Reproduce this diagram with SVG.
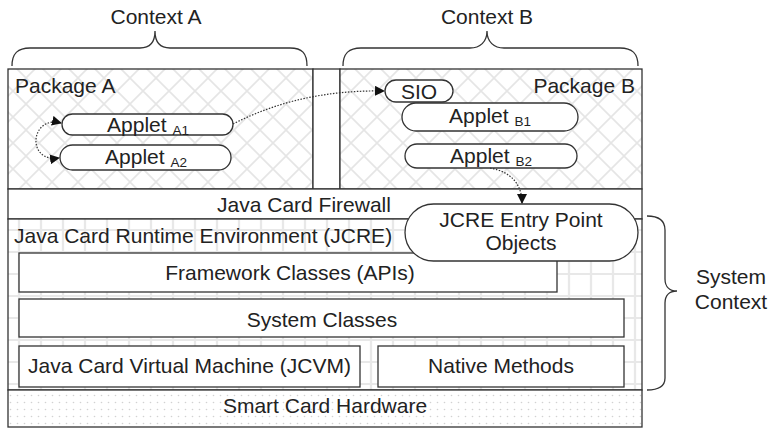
<svg xmlns="http://www.w3.org/2000/svg" width="770" height="428" viewBox="0 0 770 428">
<style>
text{font-family:"Liberation Sans",Arial,sans-serif;fill:#222;font-size:21px}
.sub{font-size:13.5px}
.box{fill:#fff;stroke:#333;stroke-width:1.3}
.line{stroke:#333;stroke-width:1.3;fill:none}
.conn{stroke:#333;stroke-width:1.2;stroke-dasharray:1.5 1.5;fill:none}
.brace{stroke:#333;stroke-width:1.3;fill:none}
</style>
<defs>
<pattern id="hatch" patternUnits="userSpaceOnUse" width="26" height="26">
<rect width="26" height="26" fill="#fff"/>
<path d="M0,0L26,26M26,0L0,26" stroke="#e5e5e5" stroke-width="1.6"/>
</pattern>
<pattern id="grid" patternUnits="userSpaceOnUse" width="22" height="22" x="8" y="219">
<rect width="22" height="22" fill="#fff"/>
<path d="M11,0V22M0,11H22" stroke="#e8e8e8" stroke-width="2.2"/>
</pattern>
<pattern id="dots" patternUnits="userSpaceOnUse" width="7" height="7">
<rect width="7" height="7" fill="#fff"/>
<circle cx="3.5" cy="3.5" r="0.8" fill="#d2d2d2"/>
</pattern>
<marker id="arr" viewBox="0 0 10 10" refX="9" refY="5" markerWidth="10" markerHeight="10" markerUnits="userSpaceOnUse" orient="auto-start-reverse">
<path d="M0,0L10,5L0,10z" fill="#111"/>
</marker>
</defs>

<g id="context-a">
<path class="brace" d="M12,66C12,53 18,48 30,48L140,48C150,48 155,42 155,31C155,42 160,48 170,48L290,48C302,48 307,53 307,66"/>
<text x="156" y="24" text-anchor="middle">Context A</text>
</g>
<g id="context-b">
<path class="brace" d="M343,66C343,53 349,48 361,48L470,48C480,48 487,42 487,31C487,42 494,48 504,48L620,48C632,48 638,53 638,66"/>
<text x="487" y="24" text-anchor="middle">Context B</text>
</g>

<g id="package-a">
<rect x="8" y="69" width="305" height="120" fill="url(#hatch)" stroke="#333" stroke-width="1.3"/>
<text x="15" y="93">Package A</text>
</g>
<g id="gap">
<rect x="313" y="69" width="27" height="120" class="box"/>
</g>
<g id="package-b">
<rect x="340" y="69" width="302" height="120" fill="url(#hatch)" stroke="#333" stroke-width="1.3"/>
<text x="635" y="93" text-anchor="end">Package B</text>
</g>

<g id="firewall">
<rect x="8" y="189" width="634" height="30" class="box"/>
<text x="304" y="212" text-anchor="middle">Java Card Firewall</text>
</g>

<g id="jcre">
<rect x="8" y="219" width="634" height="171" fill="url(#grid)" stroke="#333" stroke-width="1.3"/>
<text x="14" y="243">Java Card Runtime Environment (JCRE)</text>
</g>

<g id="framework">
<rect x="19" y="253" width="538" height="39" class="box"/>
<text x="290" y="280" text-anchor="middle">Framework Classes (APIs)</text>
</g>
<g id="system-classes">
<rect x="19" y="299" width="605" height="38" class="box"/>
<text x="322" y="327" text-anchor="middle">System Classes</text>
</g>
<g id="jcvm">
<rect x="19" y="346" width="341" height="41" class="box"/>
<text x="189.5" y="373" text-anchor="middle">Java Card Virtual Machine (JCVM)</text>
</g>
<g id="native">
<rect x="378" y="346" width="246" height="41" class="box"/>
<text x="501" y="373" text-anchor="middle">Native Methods</text>
</g>

<g id="hardware">
<rect x="8" y="390" width="634" height="37" fill="url(#dots)" stroke="#333" stroke-width="1.3"/>
<text x="325" y="413" text-anchor="middle">Smart Card Hardware</text>
</g>

<g id="jcre-entry">
<rect x="405" y="204" width="233" height="57" rx="28.5" class="box"/>
<text x="521" y="227" text-anchor="middle">JCRE Entry Point</text>
<text x="521" y="250" text-anchor="middle">Objects</text>
</g>

<g id="applet-a1">
<rect x="62" y="114" width="171" height="21" rx="10.5" class="box"/>
<text x="148" y="132" text-anchor="middle">Applet <tspan class="sub" dy="3">A1</tspan></text>
</g>
<g id="applet-a2">
<rect x="60" y="145" width="171" height="25" rx="12.5" class="box"/>
<text x="146" y="164" text-anchor="middle">Applet <tspan class="sub" dy="3">A2</tspan></text>
</g>
<g id="sio">
<rect x="385" y="80" width="68" height="22" rx="11" class="box"/>
<text x="419" y="99" text-anchor="middle">SIO</text>
</g>
<g id="applet-b1">
<rect x="402" y="103" width="176" height="28" rx="14" class="box"/>
<text x="490" y="123" text-anchor="middle">Applet <tspan class="sub" dy="3">B1</tspan></text>
</g>
<g id="applet-b2">
<rect x="405" y="144" width="172" height="24" rx="12" class="box"/>
<text x="491" y="163" text-anchor="middle">Applet <tspan class="sub" dy="3">B2</tspan></text>
</g>

<g id="system-context">
<path class="brace" d="M647,216C659,216 665,220 665,230L665,279C665,287 670,291 677,291C670,291 665,295 665,303L665,378C665,386 659,390 647,390"/>
<text x="731" y="284" text-anchor="middle">System</text>
<text x="731" y="309" text-anchor="middle">Context</text>
</g>

<g id="connectors">
<path class="conn" d="M61,123C30,115 26,163 59,158" marker-start="url(#arr)" marker-end="url(#arr)"/>
<path class="conn" d="M233,124C280,100 330,90 384,91" marker-end="url(#arr)"/>
<path class="conn" d="M490,168C512,172 522,185 522,203" marker-end="url(#arr)"/>
</g>
</svg>
